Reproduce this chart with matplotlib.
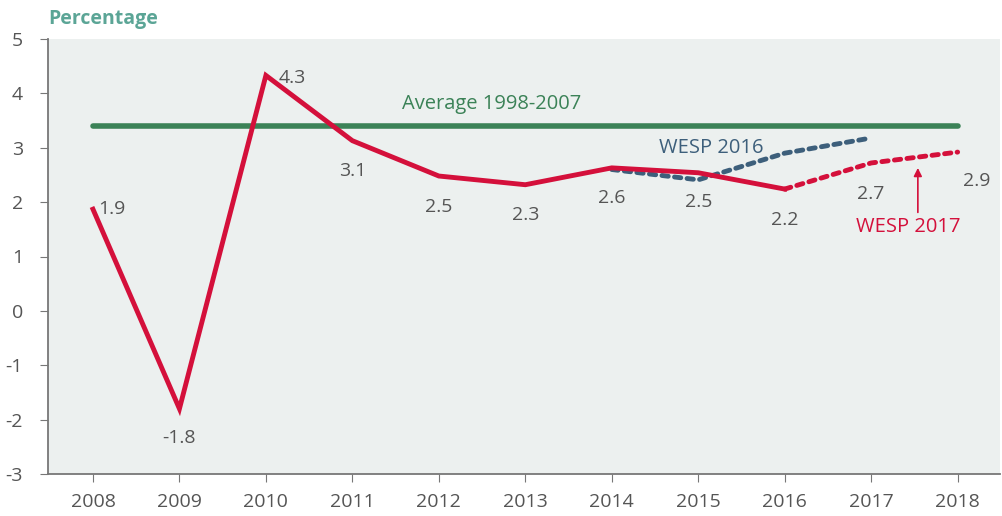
import matplotlib.pyplot as plt

plt.rcParams['font.family'] = ['Open Sans', 'DejaVu Sans']

years = [2008, 2009, 2010, 2011, 2012, 2013, 2014, 2015, 2016]
growth = [1.87, -1.8, 4.33, 3.13, 2.48, 2.32, 2.63, 2.54, 2.24]
fc_years = [2016, 2017, 2018]
fc_2017 = [2.24, 2.72, 2.92]
wesp16_years = [2014, 2015, 2016, 2017]
wesp16 = [2.6, 2.41, 2.9, 3.18]
avg_years = [2008, 2018]
avg = [3.4, 3.4]
labels = ['1.9', '-1.8', '4.3', '3.1', '2.5', '2.3', '2.6', '2.5', '2.2', '2.7', '2.9']

RED = '#d4103b'
BLUE = '#3d5f7b'
GREEN = '#3b8257'
TEAL = '#5ba596'
GREY = '#555555'

fig = plt.figure(figsize=(10.02, 5.16), dpi=100)
ax = fig.add_axes([48/1002, 42/516, 952/1002, 435/516])
ax.set_facecolor('#ecf0ef')

ax.plot(avg_years, avg, color=GREEN, lw=4, solid_capstyle='round')
ax.plot(wesp16_years, wesp16, color=BLUE, lw=3.5, ls=(0, (1.3, 1.3)), dash_capstyle='round')
ax.plot(years, growth, color=RED, lw=3.5, solid_joinstyle='miter')
ax.plot(fc_years, fc_2017, color=RED, lw=3.5, ls=(0, (1.3, 1.3)), dash_capstyle='round')

# value labels (offsets in points)
all_years = years + fc_years[1:]
all_vals = growth + fc_2017[1:]
offsets = [(4, 0, 'left'), (0, -21, 'center'), (9, -2, 'left'), (0, -22, 'center'),
           (0, -22, 'center'), (0, -22, 'center'), (0, -22, 'center'), (0, -21, 'center'),
           (0, -22, 'center'), (0, -22, 'center'), (14, -21, 'center')]
for x, y, t, (dx, dy, ha) in zip(all_years, all_vals, labels, offsets):
    ax.annotate(t, (x, y), xytext=(dx, dy), textcoords='offset points',
                ha=ha, va='center', fontsize=14, color=GREY)

ax.text(2012.61, 3.8, 'Average 1998-2007', color=GREEN, fontsize=14.5, ha='center', va='center')
ax.text(2014.55, 3.0, 'WESP 2016', color=BLUE, fontsize=14.5, ha='left', va='center')
ax.text(2017.43, 1.54, 'WESP 2017', color=RED, fontsize=14.5, ha='center', va='center')
ax.annotate('', xy=(2017.54, 2.68), xytext=(2017.54, 1.76),
            arrowprops=dict(arrowstyle='-|>', color=RED, lw=1.2, mutation_scale=12))

ax.set_xlim(2007.48, 2018.49)
ax.set_ylim(-3, 5)
ax.set_xticks(range(2008, 2019))
ax.set_yticks(range(-3, 6))
ax.set_yticklabels([str(v) for v in range(-3, 6)])
for s in ['top', 'right']:
    ax.spines[s].set_visible(False)
for s in ['left', 'bottom']:
    ax.spines[s].set_color('#777777')
    ax.spines[s].set_linewidth(1.3)
ax.tick_params(axis='both', direction='out', length=6, color='#777777',
               labelsize=14, labelcolor=GREY)
ax.tick_params(axis='y', pad=12)
ax.tick_params(axis='x', pad=8)

fig.text(48/1002, 1 - 19/516, 'Percentage', color=TEAL, fontsize=14, fontweight='bold',
         ha='left', va='center')

fig.savefig('out.png', dpi=100)
